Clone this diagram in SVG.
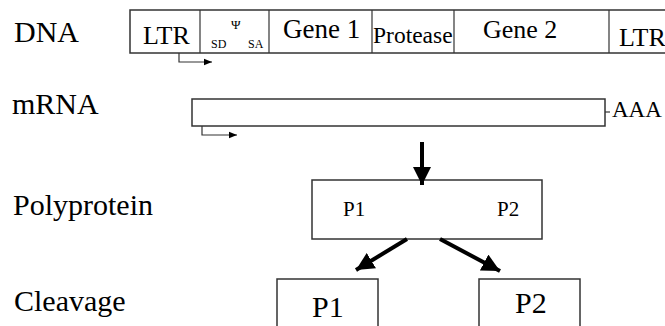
<svg xmlns="http://www.w3.org/2000/svg" width="665" height="326" viewBox="0 0 665 326">
<defs>
<style>
text{font-family:"Liberation Serif","Times New Roman",serif;fill:#000}
.lbl{font-size:30px}
.box{fill:#fff;stroke:#333;stroke-width:1.5}
.thin{fill:none;stroke:#333;stroke-width:1.2}
.thick{fill:none;stroke:#000;stroke-width:4}
</style>
<marker id="sm" viewBox="0 0 10 10" refX="10" refY="5" markerWidth="10" markerHeight="8" markerUnits="userSpaceOnUse" orient="auto"><path d="M0,1 L10,5 L0,9 Z" fill="#000"/></marker>
<marker id="bg" viewBox="0 0 10 10" refX="10" refY="5" markerWidth="18" markerHeight="18" markerUnits="userSpaceOnUse" orient="auto"><path d="M0,0 L10,5 L0,10 Z" fill="#000"/></marker>
</defs>
<g id="labels">
<text class="lbl" x="14" y="42">DNA</text>
<text class="lbl" x="12" y="114">mRNA</text>
<text class="lbl" x="13" y="215">Polyprotein</text>
<text class="lbl" x="14" y="311">Cleavage</text>
</g>
<g id="dna">
<rect class="box" x="130" y="10" width="545" height="43"/>
<line class="thin" x1="200" y1="10" x2="200" y2="53"/>
<line class="thin" x1="269" y1="10" x2="269" y2="53"/>
<line class="thin" x1="372" y1="10" x2="372" y2="53"/>
<line class="thin" x1="454" y1="10" x2="454" y2="53"/>
<line class="thin" x1="609" y1="10" x2="609" y2="53"/>
<text x="143" y="44" font-size="26">LTR</text>
<text x="211" y="48" font-size="12">SD</text>
<text x="231" y="29" font-size="13">Ψ</text>
<text x="248" y="48" font-size="12">SA</text>
<text x="283" y="38" font-size="27">Gene 1</text>
<text x="373" y="43" font-size="23.5">Protease</text>
<text x="483" y="38" font-size="26">Gene 2</text>
<text x="619" y="46" font-size="26">LTR</text>
</g>
<g id="mrna">
<rect class="box" x="192" y="99" width="413" height="27"/>
<line class="thin" x1="605" y1="112" x2="610" y2="112"/>
<text x="612" y="117" font-size="23">AAA</text>
</g>
<g id="polyprotein">
<rect class="box" x="312" y="180" width="230" height="59"/>
<text x="343" y="216" font-size="21">P1</text>
<text x="497" y="216" font-size="21">P2</text>
</g>
<g id="p1">
<rect class="box" x="277" y="279" width="101" height="60"/>
<text x="312" y="317" font-size="30">P1</text>
</g>
<g id="p2">
<rect class="box" x="479" y="279" width="101" height="60"/>
<text x="515" y="313" font-size="30">P2</text>
</g>
<g id="connectors">
<path class="thin" d="M179,53 V62 H212" marker-end="url(#sm)"/>
<path class="thin" d="M202,126 V135 H237" marker-end="url(#sm)"/>
<path class="thick" d="M422,142 V185" marker-end="url(#bg)"/>
<path class="thick" d="M407,239 L356,270" marker-end="url(#bg)"/>
<path class="thick" d="M440,239 L500,271" marker-end="url(#bg)"/>
</g>
</svg>
